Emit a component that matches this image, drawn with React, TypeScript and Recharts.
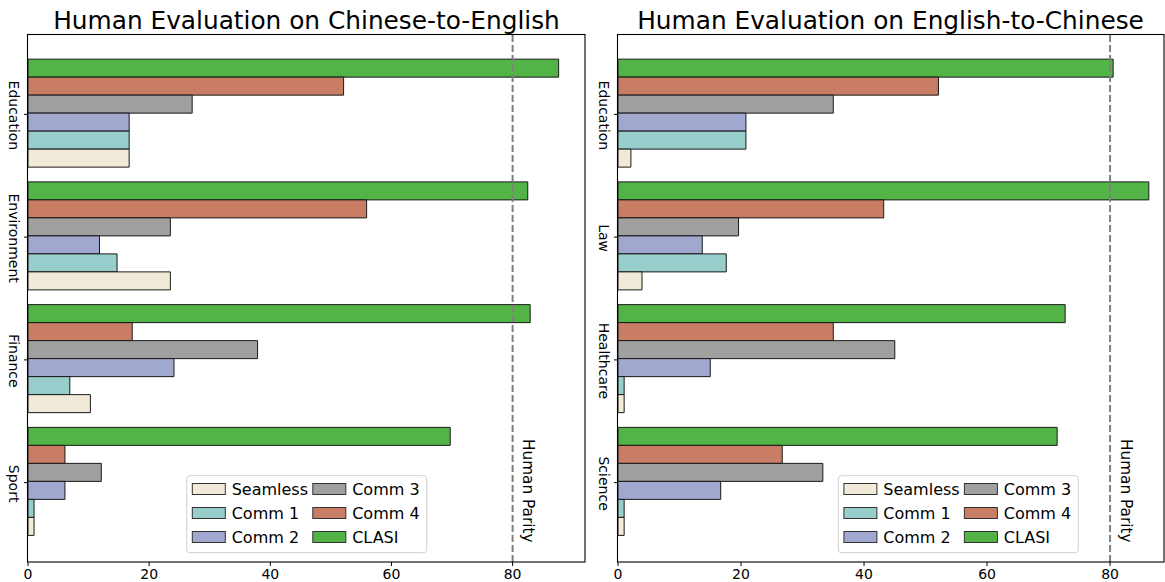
import { BarChart, Bar, XAxis, YAxis, ReferenceLine } from 'recharts';

const FONT = '"DejaVu Sans", Verdana, sans-serif';

// series, in legend order
const seriesNames = ['Seamless', 'Comm 1', 'Comm 2', 'Comm 3', 'Comm 4', 'CLASI'];
const seriesColors = ['#f2ead8', '#97cecc', '#a1a8d0', '#a0a0a0', '#c97d64', '#52b447'];

// Chinese-to-English
const zhEnDomains = ['Education', 'Environment', 'Finance', 'Sport'];
const zhEnSeamless = [16.7, 23.5, 10.3, 1.0];
const zhEnComm1 = [16.7, 14.7, 6.9, 1.0];
const zhEnComm2 = [16.7, 11.8, 24.1, 6.1];
const zhEnComm3 = [27.1, 23.5, 37.9, 12.1];
const zhEnComm4 = [52.1, 55.9, 17.2, 6.1];
const zhEnClasi = [87.6, 82.5, 82.9, 69.7];

// English-to-Chinese
const enZhDomains = ['Education', 'Law', 'Healthcare', 'Science'];
const enZhSeamless = [2.1, 3.9, 1.0, 1.0];
const enZhComm1 = [20.8, 17.6, 1.0, 1.0];
const enZhComm2 = [20.8, 13.7, 15.0, 16.7];
const enZhComm3 = [35.0, 19.6, 45.0, 33.3];
const enZhComm4 = [52.1, 43.2, 35.0, 26.7];
const enZhClasi = [80.5, 86.3, 72.7, 71.4];

const xTicks = [0, 20, 40, 60, 80];
const humanParity = 80;

const buildRows = (domains: string[], values: number[][]) =>
  domains.map((name, i) => {
    const row: any = { name };
    seriesNames.forEach((s, j) => {
      row[s] = values[j][i];
    });
    return row;
  });

const zhEnRows = buildRows(zhEnDomains, [zhEnSeamless, zhEnComm1, zhEnComm2, zhEnComm3, zhEnComm4, zhEnClasi]);
const enZhRows = buildRows(enZhDomains, [enZhSeamless, enZhComm1, enZhComm2, enZhComm3, enZhComm4, enZhClasi]);

const DomainTick = (props: any) => {
  const { y, payload } = props;
  return (
    <text
      transform={`translate(9, ${y + 1}) rotate(90)`}
      textAnchor="middle"
      fontSize={14}
      fontFamily={FONT}
      fill="#000"
    >
      {payload.value}
    </text>
  );
};

const ParityLabel = (props: any) => {
  const vb = props.viewBox;
  if (!vb) return null;
  return (
    <text
      transform={`translate(${vb.x + 10.5}, ${vb.y + 404}) rotate(90)`}
      textAnchor="start"
      fontSize={15.3}
      fontFamily={FONT}
      fill="#000"
    >
      Human Parity
    </text>
  );
};

interface PanelProps {
  rows: any[];
  xMax: number;
  left: number;
  width: number;
  marginRight: number;
}

const Panel = ({ rows, xMax, left, width, marginRight }: PanelProps) => (
  <div style={{ position: 'absolute', left, top: 0 }}>
    <BarChart
      layout="vertical"
      width={width}
      height={582}
      data={rows}
      margin={{ top: 35, right: marginRight, bottom: 0, left: 0 }}
      barCategoryGap="5%"
      barGap={0}
    >
      <XAxis
        type="number"
        domain={[0, xMax]}
        ticks={xTicks}
        allowDataOverflow
        height={20}
        axisLine={false}
        stroke="#000"
        tickSize={4}
        tickMargin={3}
        tick={{ fill: '#000', fontSize: 14, fontFamily: FONT }}
      />
      <YAxis
        type="category"
        dataKey="name"
        width={28}
        padding={{ top: 18, bottom: 18 }}
        axisLine={false}
        stroke="#000"
        tickSize={4}
        tick={<DomainTick />}
      />
      {[...seriesNames].reverse().map((name) => (
        <Bar
          key={name}
          dataKey={name}
          fill={seriesColors[seriesNames.indexOf(name)]}
          stroke="#1a1a1a"
          strokeWidth={1}
          isAnimationActive={false}
        />
      ))}
      <ReferenceLine
        x={humanParity}
        stroke="#808080"
        strokeWidth={2}
        strokeDasharray="7 3"
        label={<ParityLabel />}
      />
    </BarChart>
  </div>
);

const LegendBox = ({ x, y }: { x: number; y: number }) => (
  <g>
    <rect x={x} y={y} width={240} height={77} rx={3} fill="#fff" fillOpacity={0.8} stroke="#d0d0d0" />
    {seriesNames.map((name, i) => {
      const col = Math.floor(i / 3);
      const row = i % 3;
      const cy = y + 13.3 + row * 24;
      return (
        <g key={name}>
          <rect
            x={x + 5.6 + col * 120.5}
            y={cy - 5.5}
            width={33}
            height={11}
            fill={seriesColors[i]}
            stroke="#333"
          />
          <text x={x + 45 + col * 120.5} y={cy + 5.8} fontSize={16} fontFamily={FONT} fill="#000">
            {name}
          </text>
        </g>
      );
    })}
  </g>
);

export default function App() {
  return (
    <div
      style={{
        position: 'fixed',
        left: 0,
        top: 0,
        width: 1165,
        height: 582,
        overflow: 'hidden',
        background: '#fff',
      }}
    >
      <Panel rows={zhEnRows} xMax={91.95} left={0} width={590} marginRight={5} />
      <Panel rows={enZhRows} xMax={88.77} left={590} width={575} marginRight={1} />
      <svg
        width={1165}
        height={582}
        style={{ position: 'absolute', left: 0, top: 0, pointerEvents: 'none' }}
      >
        <text x={306.5} y={29.3} textAnchor="middle" fontSize={24.8} fontFamily={FONT} fill="#000">
          Human Evaluation on Chinese-to-English
        </text>
        <text x={890.5} y={29.3} textAnchor="middle" fontSize={24.8} fontFamily={FONT} fill="#000">
          Human Evaluation on English-to-Chinese
        </text>
        <rect x={27.5} y={34.5} width={557.5} height={527.5} fill="none" stroke="#000" strokeWidth={1.1} />
        <rect x={617.5} y={34.5} width={546.5} height={527.5} fill="none" stroke="#000" strokeWidth={1.1} />
        <LegendBox x={186.7} y={475.7} />
        <LegendBox x={838.3} y={475.7} />
      </svg>
    </div>
  );
}
